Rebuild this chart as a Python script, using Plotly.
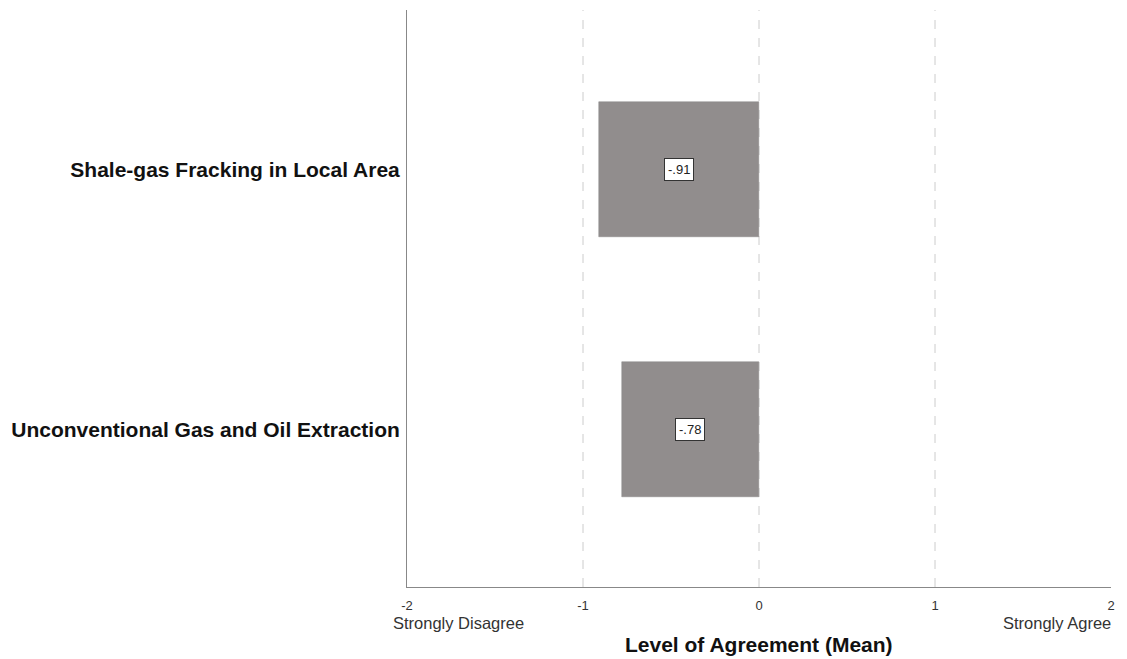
import plotly.graph_objects as go

categories = ["Shale-gas Fracking in Local Area", "Unconventional Gas and Oil Extraction"]
means = [-0.91, -0.78]
x_ticks = [-2, -1, 0, 1, 2]
x_tick_labels = ["-2", "-1", "0", "1", "2"]
label_texts = ["-.91", "-.78"]

ypos = list(range(len(categories)))
FONT = "Liberation Sans, Arial, sans-serif"

fig = go.Figure()
fig.add_trace(go.Bar(
    x=means, y=ypos, orientation="h", width=0.52,
    marker=dict(color="#918d8d", line=dict(color="#8a8686", width=0.5)),
    hoverinfo="skip", showlegend=False,
))

for v, yv, t in zip(means, ypos, label_texts):
    fig.add_annotation(x=v / 2, y=yv, text=t, showarrow=False,
                       font=dict(family=FONT, size=13, color="#222"),
                       bgcolor="white", bordercolor="#333", borderwidth=1, borderpad=3)

for gx in [-1, 0, 1]:
    fig.add_shape(type="line", x0=gx, x1=gx, y0=0, y1=1, xref="x", yref="paper",
                  line=dict(color="#cccccc", width=1, dash="dash"), layer="below")

fig.add_annotation(x=-2, y=0, xref="x", yref="paper", text="Strongly Disagree",
                   showarrow=False, xanchor="left", yanchor="middle", xshift=-16, yshift=-36,
                   font=dict(family=FONT, size=16.5, color="#333"))
fig.add_annotation(x=2, y=0, xref="x", yref="paper", text="Strongly Agree",
                   showarrow=False, xanchor="right", yanchor="middle", xshift=2, yshift=-36,
                   font=dict(family=FONT, size=16.5, color="#333"))
fig.add_annotation(x=0, y=0, xref="x", yref="paper", text="<b>Level of Agreement (Mean)</b>",
                   showarrow=False, xanchor="center", yanchor="middle", yshift=-57,
                   font=dict(family=FONT, size=21, color="#111"))

fig.update_layout(
    width=1127, height=659,
    margin=dict(l=407, r=16, t=10, b=72),
    plot_bgcolor="white", paper_bgcolor="white",
    bargap=0,
    xaxis=dict(range=[-2, 2], tickvals=x_ticks, ticktext=x_tick_labels,
               showgrid=False, zeroline=False, showline=True, linecolor="#888888", linewidth=1,
               ticks="", ticklabelstandoff=6,
               tickfont=dict(family=FONT, size=13, color="#333"),
               fixedrange=True),
    yaxis=dict(range=[1.605, -0.615], tickvals=ypos, ticktext=["<b>%s</b>" % c for c in categories],
               showgrid=False, zeroline=False, showline=True, linecolor="#888888", linewidth=1,
               ticks="", ticklabelstandoff=2,
               tickfont=dict(family=FONT, size=21, color="#111"),
               fixedrange=True),
)

fig.write_html("out.html", config={"displayModeBar": False},
               post_script="document.body.style.margin='0';")
